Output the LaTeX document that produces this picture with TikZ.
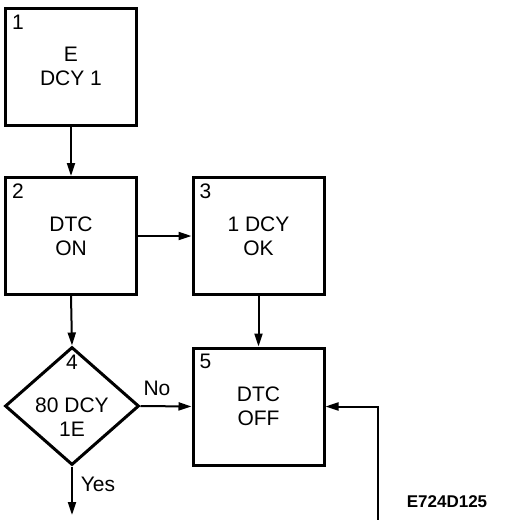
\documentclass[tikz,border=0pt]{standalone}
\usepackage{fontspec}
\setmainfont{Liberation Sans}
\usetikzlibrary{arrows.meta,positioning,shapes.geometric}

\begin{document}
\begin{tikzpicture}[x=1pt, y=-1pt,
    stepbox/.style={draw, line width=3pt, minimum width=131pt, minimum height=117pt, inner sep=0pt, align=center, font=\fontsize{21}{24}\selectfont},
    decision/.style={draw, diamond, line width=3pt, minimum width=134pt, minimum height=118pt, inner sep=0pt},
    numtxt/.style={inner sep=0pt, anchor=north west, font=\fontsize{21}{24}\selectfont},
    flowtxt/.style={inner sep=0pt, align=center, font=\fontsize{21}{24}\selectfont},
    flow/.style={line width=2pt, -{Triangle[length=13pt, width=8pt]}}]
    % Page frame
    \useasboundingbox (0,0) rectangle (512,520);
    % Layer 1: Boxes and decision
    \node[stepbox] (edcy) at (71,66.5) {E\\DCY 1};
    \node[stepbox] (dtcon) at (71,236) {DTC\\ON};
    \node[stepbox] (dcyok) at (258.5,236) {1 DCY\\OK};
    \node[decision] (check) at (72,406) {};
    \node[stepbox] (dtcoff) at (258.5,406.5) {DTC\\OFF};
    % Step numbers in the corners
    \node[numtxt] (n1) at ([shift={(8pt,-8pt)}]edcy.north west) {1};
    \node[numtxt] (n2) at ([shift={(8pt,-8pt)}]dtcon.north west) {2};
    \node[numtxt] (n3) at ([shift={(8pt,-8pt)}]dcyok.north west) {3};
    \node[numtxt] (n5) at ([shift={(8pt,-7pt)}]dtcoff.north west) {5};
    \node[flowtxt] (n4) at (72,362) {4};
    \node[flowtxt] (checktxt) at (72,417) {80 DCY\\1E};
    % Layer 2: Connectors
    \coordinate (yesend) at (72,515);
    \coordinate (feedin) at (378,520);
    \draw[flow] (edcy.south) -- (dtcon.north);
    \draw[flow] (dtcon.east) -- (dcyok.west);
    \draw[flow] (dcyok.south) -- (dtcoff.north);
    \draw[flow] (dtcon.south) -- (check.north);
    \draw[flow] (check.east) -- (dtcoff.west);
    \draw[flow] (check.south) -- (yesend);
    \draw[flow] (feedin) |- (dtcoff.east);
    % Branch labels
    \node[flowtxt] (nolbl) at (157,388) {No};
    \node[flowtxt] (yeslbl) at (98,484) {Yes};
    % Figure code
    \node[inner sep=0pt, font=\fontsize{17}{20}\selectfont\bfseries] (figcode) at (447,502) {E724D125};
\end{tikzpicture}
\end{document}
